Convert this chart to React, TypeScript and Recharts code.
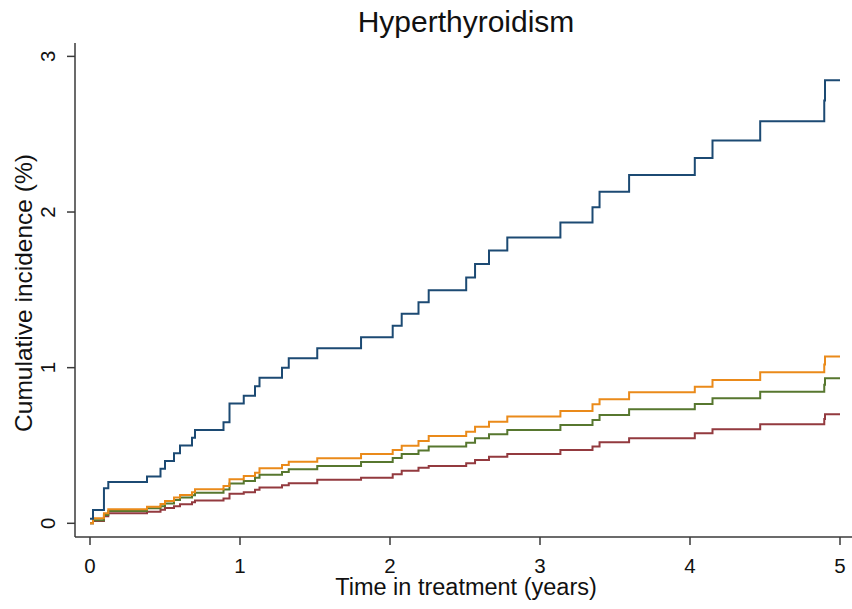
import { LineChart, Line, XAxis, YAxis } from 'recharts'
import type { FC } from 'react'

// event times (years) shared by all four step curves
const times = [
  0, 0.02, 0.093, 0.122, 0.38, 0.47, 0.5, 0.56, 0.6, 0.68,
  0.7, 0.89, 0.93, 1.025, 1.1, 1.13, 1.28, 1.325, 1.515, 1.807,
  2.018, 2.078, 2.19, 2.258, 2.508, 2.567, 2.66, 2.782, 3.136, 3.35,
  3.397, 3.594, 4.032, 4.15, 4.468, 4.895, 4.9, 5.0
]

// cumulative incidence (%) after each event time
const navyCif = [
  0.03, 0.085, 0.225, 0.265, 0.3, 0.35, 0.4, 0.45, 0.5, 0.55,
  0.6, 0.65, 0.77, 0.82, 0.88, 0.935, 1.0, 1.06, 1.125, 1.196,
  1.269, 1.346, 1.421, 1.498, 1.58, 1.666, 1.753, 1.837, 1.933, 2.03,
  2.13, 2.238, 2.347, 2.459, 2.583, 2.716, 2.846, 2.846
]
const orangeCif = [
  0, 0.032, 0.064, 0.09, 0.107, 0.124, 0.143, 0.165, 0.182, 0.2,
  0.219, 0.24, 0.283, 0.304, 0.325, 0.354, 0.375, 0.396, 0.418, 0.446,
  0.471, 0.499, 0.529, 0.561, 0.589, 0.621, 0.653, 0.686, 0.722, 0.765,
  0.797, 0.842, 0.878, 0.921, 0.971, 1.02, 1.071, 1.071
]
const greenCif = [
  0, 0.02, 0.053, 0.079, 0.096, 0.11, 0.127, 0.15, 0.165, 0.18,
  0.197, 0.217, 0.256, 0.272, 0.293, 0.312, 0.33, 0.347, 0.368, 0.394,
  0.42, 0.445, 0.467, 0.493, 0.518, 0.547, 0.572, 0.6, 0.632, 0.664,
  0.696, 0.733, 0.767, 0.804, 0.846, 0.89, 0.932, 0.932
]
const maroonCif = [
  0, 0.015, 0.045, 0.064, 0.075, 0.087, 0.098, 0.11, 0.122, 0.135,
  0.147, 0.16, 0.19, 0.2, 0.215, 0.23, 0.245, 0.258, 0.28, 0.293,
  0.315, 0.338, 0.357, 0.368, 0.386, 0.407, 0.428, 0.446, 0.471, 0.493,
  0.521, 0.547, 0.579, 0.605, 0.637, 0.67, 0.701, 0.701
]

const xTicks = [0, 1, 2, 3, 4, 5]
const yTicks = [0, 1, 2, 3]

const title = 'Hyperthyroidism'
const xTitle = 'Time in treatment (years)'
const yTitle = 'Cumulative incidence (%)'

const data = times.map((t, i) => ({
  t,
  navy: navyCif[i],
  orange: orangeCif[i],
  green: greenCif[i],
  maroon: maroonCif[i]
}))

const FONT = '"Liberation Sans", Arial, Helvetica, sans-serif'
const AXIS = '#3a3a3a'

const XTick: FC<any> = ({ x, y, payload }) => (
  <text x={x} y={y + 28} textAnchor="middle" fontSize={20.5} fill="#111" fontFamily={FONT}>
    {payload.value}
  </text>
)

const YTick: FC<any> = ({ x, y, payload }) => (
  <text
    x={x - 12}
    y={y}
    textAnchor="middle"
    fontSize={20.5}
    fill="#111"
    fontFamily={FONT}
    transform={`rotate(-90, ${x - 12}, ${y})`}
  >
    {payload.value}
  </text>
)

export default function App() {
  return (
    <div style={{ position: 'absolute', left: 0, top: 0, width: 852, height: 609, background: '#fff' }}>
      <LineChart
        width={852}
        height={609}
        data={data}
        margin={{ top: 43, right: 0, bottom: 0, left: 35 }}
      >
        <XAxis
          type="number"
          dataKey="t"
          domain={[-0.1, 5.08]}
          ticks={xTicks}
          allowDataOverflow
          height={72}
          tickSize={8}
          tickMargin={0}
          stroke={AXIS}
          strokeWidth={1.5}
          tick={<XTick />}
        />
        <YAxis
          type="number"
          domain={[-0.088, 3.086]}
          ticks={yTicks}
          allowDataOverflow
          width={40}
          tickSize={8}
          tickMargin={0}
          stroke={AXIS}
          strokeWidth={1.5}
          tick={<YTick />}
        />
        <Line type="stepAfter" dataKey="maroon" stroke="#933a3f" strokeWidth={2} dot={false} isAnimationActive={false} />
        <Line type="stepAfter" dataKey="green" stroke="#57772f" strokeWidth={2} dot={false} isAnimationActive={false} />
        <Line type="stepAfter" dataKey="orange" stroke="#ea8a1a" strokeWidth={2} dot={false} isAnimationActive={false} />
        <Line type="stepAfter" dataKey="navy" stroke="#1c4a73" strokeWidth={2} dot={false} isAnimationActive={false} />
      </LineChart>
      <svg
        width={852}
        height={609}
        style={{ position: 'absolute', left: 0, top: 0, pointerEvents: 'none' }}
        fontFamily={FONT}
      >
        <text x={466} y={32} textAnchor="middle" fontSize={30} fill="#111">{title}</text>
        <text x={466} y={595} textAnchor="middle" fontSize={23.5} fill="#111">{xTitle}</text>
        <text
          x={32}
          y={293}
          textAnchor="middle"
          fontSize={24.5}
          fill="#111"
          transform="rotate(-90, 32, 293)"
        >
          {yTitle}
        </text>
      </svg>
    </div>
  )
}
